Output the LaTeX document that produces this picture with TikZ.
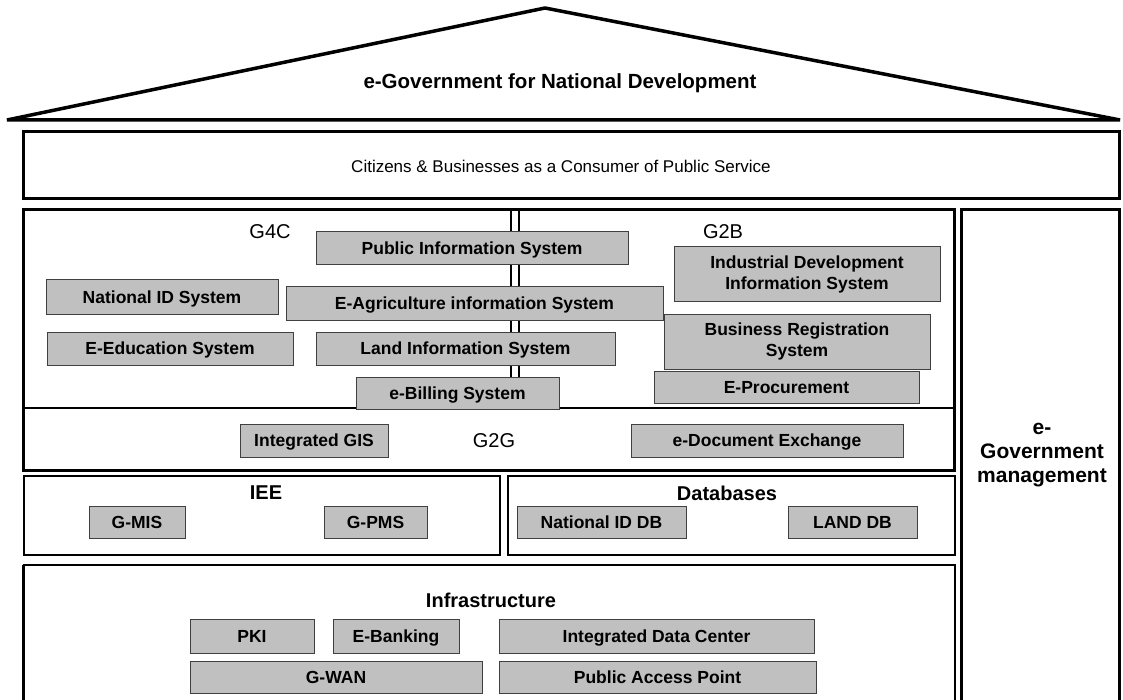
\documentclass[tikz,border=0pt]{standalone}
\usepackage{fontspec}
\setmainfont{Liberation Sans}
\usetikzlibrary{positioning}

\definecolor{sysgray}{RGB}{192,192,192}
\definecolor{sysedge}{RGB}{64,64,64}

\begin{document}
\begin{tikzpicture}[x=1pt,y=-1pt,
  frame/.style={draw=black,line width=3pt},
  tier/.style={draw=black,line width=2pt},
  sys/.style 2 args={draw=sysedge,fill=sysgray,line width=1pt,inner sep=0pt,
    minimum width=#1,minimum height=#2,text height=12.5pt,text depth=0pt,
    font=\fontsize{17.5}{21}\selectfont\bfseries},
  sys2/.style 2 args={draw=sysedge,fill=sysgray,line width=1pt,inner sep=0pt,
    minimum width=#1,minimum height=#2,align=center,
    font=\fontsize{17.5}{21}\selectfont\bfseries},
  layer/.style={font=\fontsize{20}{24}\selectfont\bfseries},
  sector/.style={font=\fontsize{20}{24}\selectfont}]
  \clip (0,0) rectangle (1123,700);

  % roof and citizens beam
  \draw[line width=3.5pt,line join=bevel] (7,120) -- (545,8) -- (1120,120) -- cycle;
  \node[font=\fontsize{20.5}{24}\selectfont\bfseries] (roof) at (560,83) {e-Government for National Development};
  \draw[frame] (23.5,131.5) rectangle (1119.5,198.5);
  \node[font=\fontsize{17}{20}\selectfont] (citizens) at (561,166) {Citizens \& Businesses as a Consumer of Public Service};

  % services
  \draw[line width=1.8pt] (511,209.5) -- (511,408) (519,209.5) -- (519,408);
  \draw[frame] (23.5,209.5) rectangle (954.5,470);
  \draw[tier] (23.5,408) -- (954.5,408);
  \node[sector] (g4c) at (270,232) {G4C};
  \node[sector] (g2b) at (723,232) {G2B};
  \node[sector] (g2g) at (494,441) {G2G};

  \node[sys={312}{33}] (pubinfo) at (472,248.5) {Public Information System};
  \node[sys={232}{34}] (natid) at (162,297) {National ID System};
  \node[sys={377}{33}] (eagri) at (474.5,303.5) {E-Agriculture information System};
  \node[sys={246}{33}] (eedu) at (170,348.5) {E-Education System};
  \node[sys={299}{33}] (landinfo) at (465.5,348.5) {Land Information System};
  \node[sys={203}{32}] (ebill) at (457.5,393) {e-Billing System};
  \node[sys2={266}{54}] (indev) at (807,274) {Industrial Development\\Information System};
  \node[sys2={266}{55}] (bizreg) at (797,341.5) {Business Registration\\System};
  \node[sys={265}{32}] (eproc) at (786.5,387) {E-Procurement};
  \node[sys={148}{33}] (intgis) at (314,440.5) {Integrated GIS};
  \node[sys={272}{33}] (edoc) at (767,440.5) {e-Document Exchange};

  % management pillar
  \draw[frame] (961.5,209.5) rectangle (1119.5,705);
  \node[align=center,font=\fontsize{21}{24}\selectfont\bfseries] (egovm) at (1042,455) {e-\\Government\\management};

  % applications and databases
  \draw[tier] (23.5,476) rectangle (500,555);
  \draw[tier] (508,476) rectangle (954.5,555);
  \node[layer] (iee) at (266,493) {IEE};
  \node[layer] (dbs) at (727,493) {Databases};
  \node[sys={96}{32}] (gmis) at (137,522) {G-MIS};
  \node[sys={103}{32}] (gpms) at (375.5,522) {G-PMS};
  \node[sys={169}{32}] (natiddb) at (601.5,522) {National ID DB};
  \node[sys={129}{32}] (landdb) at (852.5,522) {LAND DB};

  % infrastructure
  \draw[tier] (23.5,565) rectangle (954.5,705);
  \draw[frame] (23.5,565) -- (23.5,705);
  \node[layer] (infra) at (491,600) {Infrastructure};
  \node[sys={124}{34}] (pki) at (252,636) {PKI};
  \node[sys={126}{34}] (ebank) at (396,636) {E-Banking};
  \node[sys={315}{34}] (idc) at (656.5,636) {Integrated Data Center};
  \node[sys={292}{32}] (gwan) at (336,677) {G-WAN};
  \node[sys={317}{32}] (pap) at (657.5,677) {Public Access Point};
\end{tikzpicture}
\end{document}
